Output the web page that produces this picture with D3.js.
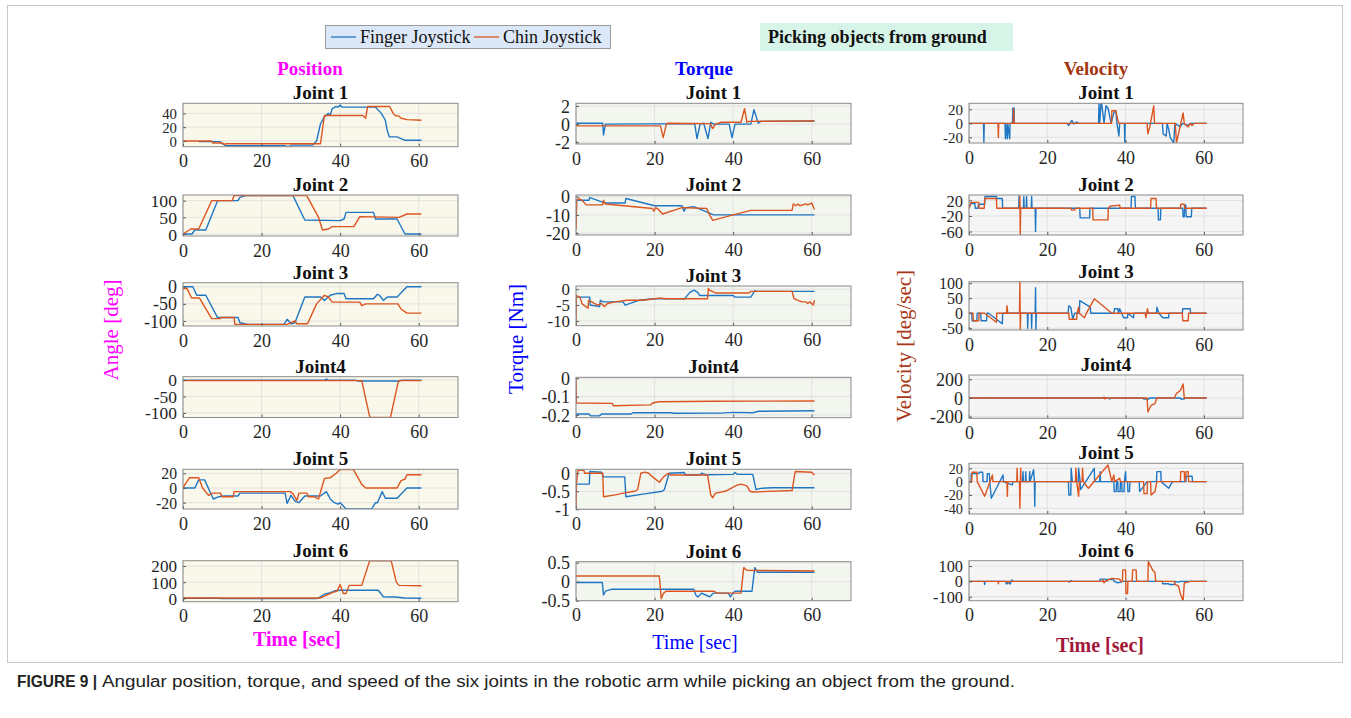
<!DOCTYPE html>
<html><head><meta charset="utf-8">
<script src="https://cdn.jsdelivr.net/npm/d3@7"></script>
<style>body{margin:0;background:#fff}</style>
</head><body>
<script>
// ---------------- DATA ----------------
const xTicks = [0, 20, 40, 60];
const xDomain = [0, 70];
const seriesNames = ["Finger Joystick", "Chin Joystick"];
const jointTitles = ["Joint 1", "Joint 2", "Joint 3", "Joint4", "Joint 5", "Joint 6"];

// Position [deg]
const posJ1F = [[4,-1],[9.5,-1],[10,-4],[11,-7],[26,-7],[26.5,-8],[27.2,-8],[27.5,-6],[33,-6],[34,0],[35,25],[36,35],[37,40],[37.5,38],[38,47],[39,50],[39.5,49],[40,52],[40.5,49],[49,49],[50.5,40],[51.5,30],[52,15],[52.5,6],[54.5,6],[56.5,1],[60.7,1]];
const posJ1C = [[0,0],[7.3,0],[7.6,-3],[10,-3],[10.5,-5],[11,-4],[33,-4],[35,-4],[36,37],[45.8,37],[46.5,33],[47,50],[52.6,50],[53.5,40],[54,37],[55,36],[55.5,33],[57,31],[60.7,30]];
const posJ2F = [[0,0],[2.3,0],[3,12],[5.8,12],[8.8,100],[14,100],[14.5,110],[16,115],[28,115],[31,42],[40,40],[41,45],[41.5,65],[48.5,65],[49,45],[54.5,45],[56.5,0],[60.7,0]];
const posJ2C = [[0,0],[2,15],[4,15],[7.3,100],[12.5,100],[13,115],[31.5,115],[34.5,50],[35.5,12],[37,15],[38,22],[43.5,22],[45,52],[55,50],[57,60],[60.7,60]];
const posJ3F = [[0,0],[2.5,0],[3.5,-25],[5.8,-25],[8.8,-90],[14,-90],[14.5,-105],[16.5,-110],[25.7,-110],[26.5,-95],[27.5,-108],[28.5,-105],[31,-30],[35,-30],[36,-40],[37.5,-25],[39,-20],[41,-20],[41.5,-35],[48.5,-35],[49.5,-22],[50,-25],[51,-40],[52,-30],[54.5,-30],[57,0],[60.7,0]];
const posJ3C = [[0,-5],[1,-5],[2.2,-33],[4.2,-33],[7.3,-93],[9.5,-93],[9.7,-90],[13,-90],[13.2,-110],[26.5,-110],[28.5,-100],[29,-108],[31.7,-108],[34,-50],[36,-25],[37,-30],[38,-45],[45,-45],[45.5,-55],[46.5,-50],[54.7,-50],[55.5,-65],[57,-77],[60.7,-77]];
const posJ4F = [[0,-1],[36,-1],[36.5,3],[37,-1],[44,-1],[44.5,-3],[55,-3],[55.5,-1],[60.7,-1]];
const posJ4C = [[0,-2],[45.5,-2],[47.3,-100],[47.6,-114],[52.8,-114],[54.8,-5],[55.2,-2],[60.7,-2]];
const posJ5F = [[0,0],[3,0],[4,11],[5.5,11],[7.7,-15],[9,-12],[10.5,-11],[14,-11],[14.5,-7],[26,-7],[26.5,-21],[27.5,-10],[28.5,-18],[29.5,-20],[31,-11],[35,-11],[36.5,-5],[37.5,-15],[38.5,-20],[39.5,-22],[40,-20],[41.5,-28.6],[48,-28.6],[49,-20],[49.5,-20],[50.7,-5],[51.5,-14],[54.5,-14],[57,0],[60.7,0]];
const posJ5C = [[0,0],[0.5,5],[1.7,14],[4,14],[5,0],[6.5,-10],[7.5,-7],[9.5,-7],[10,-12],[12.8,-12],[13,-5],[27.3,-5],[28,-8],[29,-17],[29.5,-7],[31.5,-7],[32,-12],[33.5,-12],[34.5,-15],[36,13],[37.5,14],[39,20],[40,25],[43.4,25],[45.5,5],[46.5,0],[54.5,0],[55.5,10],[56.5,12],[57,18],[60.7,18]];
const posJ6F = [[0,0],[7.5,0],[8,2],[8.5,0],[10,-2],[34,-2],[34.3,0],[36,25],[37.5,35],[38.5,45],[39.5,50],[49.7,50],[51,10],[54,8],[56.5,2],[60.7,0]];
const posJ6C = [[0,2],[35,2],[38,35],[39.2,45],[40,85],[40.8,30],[41.5,30],[42.3,80],[45.5,80],[47.5,232],[53,232],[54.3,100],[55,80],[60.7,78]];

// Torque [Nm]
const torJ1F = [[0,0.1],[6.8,0.1],[7,-1.2],[7.5,0],[30.2,0.05],[30.8,-1.6],[31.6,0],[32.5,0.1],[33.6,-1.6],[34.3,0.2],[35,0],[39,0],[39.7,-1.5],[40.5,0],[44.5,0],[45.3,1.6],[46.4,0.1],[47,0.3],[60.7,0.35]];
const torJ1C = [[0,-0.2],[21.5,-0.2],[22.2,-1.5],[23,0],[23.3,0.1],[34.2,0.05],[34.8,-0.5],[35.5,0],[37,0.2],[42,0.2],[42.9,1.7],[43.5,0.2],[44,0.3],[60.7,0.35]];
const torJ2F = [[0,-2],[3.3,-2],[3.5,-0.5],[7.5,-3.5],[12.5,-3.5],[12.7,-1],[20,-5],[27,-5],[27.5,-8],[28,-6],[30,-5.5],[35,-10],[60.7,-10]];
const torJ2C = [[0,-18],[0.2,-2],[0.8,-1],[1.5,-2],[2.6,-4.5],[6.8,-4.5],[7,-2],[7.5,-4],[19.5,-6.5],[19.8,-8],[20.3,-6],[21,-7],[22,-9.5],[27,-6],[33.3,-6.5],[34,-10],[34.8,-13],[40,-10],[44.5,-7.5],[55,-7.5],[55.3,-4],[56,-5],[56.5,-4],[57,-5],[58.5,-4],[59,-4.5],[60,-3.5],[60.7,-7]];
const torJ3F = [[0,-2.5],[3.5,-2.5],[3.6,-5],[6,-5.5],[6.2,-3.5],[7,-4],[12,-4],[12.5,-5],[16,-3.5],[20,-3],[27,-3],[27.5,-3.2],[29,-1],[30,-0.3],[31,-1],[31.5,-2],[40,-2],[40.5,-2.5],[44.5,-2.5],[45.5,-0.5],[46,-0.7],[60.7,-0.7]];
const torJ3C = [[0,-11.5],[0.1,-2],[1,-2.5],[1.5,-4.5],[2.5,-5.5],[3.1,-6],[3.2,-3.5],[4,-4],[5.5,-5],[6.5,-4.5],[7.2,-5.5],[8,-4.5],[10,-4],[13,-3.5],[17,-3.5],[20,-3],[21,-2.8],[23,-3],[33.5,-3],[33.7,0.2],[34,-0.3],[35.5,-1.2],[44,-1.2],[44.5,-0.7],[55,-0.7],[55.5,-3],[56.5,-3.5],[57.5,-4],[58.5,-4],[59,-4.5],[59.5,-4],[60.4,-5],[60.7,-3.5]];
const torJ4F = [[0,-0.195],[3.3,-0.195],[3.7,-0.205],[6,-0.205],[6.5,-0.195],[14,-0.195],[14.5,-0.188],[24,-0.188],[25,-0.191],[37,-0.19],[40,-0.186],[45,-0.188],[46.5,-0.18],[60.7,-0.177]];
const torJ4C = [[0,0],[0.1,-0.135],[9.3,-0.137],[9.5,-0.15],[19,-0.145],[19.5,-0.135],[21,-0.128],[35,-0.125],[60.7,-0.124]];
const torJ5F = [[0,-0.3],[3.4,-0.3],[3.5,0.05],[6.5,0.03],[7,-0.1],[12.4,-0.1],[12.7,-0.65],[17,-0.58],[22,-0.5],[22.5,-0.45],[23.7,0],[27.5,0.02],[28,-0.05],[31.5,-0.05],[32,0],[33,-0.04],[40,-0.03],[40.5,0.02],[41,-0.03],[45,-0.03],[45.8,-0.45],[47,-0.42],[50,-0.4],[60.7,-0.4]];
const torJ5C = [[0,-1],[0.1,-0.3],[0.5,0.08],[2,0.08],[2.2,0],[6.8,0],[7,-0.65],[10,-0.6],[12,-0.55],[15,-0.5],[15.7,-0.45],[16.5,0],[17.5,0.03],[18.5,0],[19.5,-0.1],[21.2,-0.25],[22.3,-0.1],[23.5,0],[24,-0.05],[33.5,-0.05],[34.3,-0.6],[34.8,-0.68],[35.5,-0.55],[38,-0.5],[41,-0.33],[42,-0.3],[43.5,-0.35],[44.3,-0.5],[45,-0.52],[55,-0.48],[55.8,0.05],[60,0.03],[60.7,-0.05]];
const torJ6F = [[0,-0.02],[6.7,-0.02],[7,-0.35],[7.5,-0.25],[9,-0.2],[30,-0.2],[30.5,-0.35],[31,-0.4],[32,-0.3],[33,-0.35],[34,-0.4],[35,-0.3],[38.8,-0.3],[39.3,-0.4],[40,-0.3],[40.5,-0.25],[44.8,-0.25],[45.5,0.37],[46.2,0.25],[60.7,0.25]];
const torJ6C = [[0,0.15],[21.2,0.15],[21.7,-0.45],[22.3,-0.3],[23,-0.25],[35,-0.25],[36,-0.3],[42,-0.3],[42.7,0.37],[43.5,0.3],[60.7,0.28]];

// Velocity [deg/sec]
const velJ1F = [[0,0],[3.7,0],[3.8,-28],[3.9,0],[9.2,0],[9.3,-22],[9.4,0],[9.8,-22],[9.9,0],[10.4,-22],[10.5,0],[11.1,0],[11.2,22],[11.3,0],[11.5,22],[11.6,0],[25,0],[25.5,-3],[26,2],[26.3,4],[26.8,-1],[27.5,2],[28,0],[33.1,0],[33.2,28],[33.4,0],[33.7,28],[33.9,28],[34.5,0],[35,25],[35.5,22],[36.3,0],[37,15],[37.5,18],[37.8,0],[38.3,-18],[38.5,0],[39.7,0],[39.8,-28],[39.9,0],[49.4,0],[49.6,-15],[50.4,-18],[50.6,0],[51,-8],[51.4,-20],[52.3,-28],[52.6,0],[54,-5],[54.5,0],[56,-3],[56.5,0],[60.7,0]];
const velJ1C = [[0,0],[7.4,0],[7.5,-20],[7.6,0],[11.3,0],[11.4,21],[11.5,0],[36.4,0],[36.5,18],[37.5,18],[38,5],[38.3,0],[45.5,0],[45.7,-15],[46.2,-5],[47.2,25],[47.4,0],[52.7,0],[53,-28],[54.7,15],[55,0],[55.5,-3],[56,-5],[56.5,0],[57,-3],[57.5,0],[60.7,0]];
const velJ2F = [[0,0],[0.5,12],[1.5,12],[1.6,0],[2.3,0],[2.4,10],[4,10],[4.1,30],[7,30],[7.1,25],[8.5,25],[8.6,0],[12.7,0],[12.8,32],[12.9,0],[13.9,0],[14,30],[14.1,0],[14.6,0],[14.7,30],[14.8,0],[15.9,0],[16,30],[16.1,0],[16.9,0],[17,-60],[17.1,0],[28.3,0],[28.4,-25],[30.8,-25],[30.9,0],[41.4,0],[41.5,30],[42.4,30],[42.5,0],[48.3,0],[48.4,-30],[48.9,-30],[49,0],[54.6,0],[54.7,-22],[55,-22],[55.1,8],[55.4,8],[55.5,-22],[56.8,-22],[56.9,0],[60.7,0]];
const velJ2C = [[0,0],[0.5,15],[2.5,15],[2.6,0],[3.9,0],[4,25],[7,25],[7.1,0],[12.9,0],[13,30],[13.1,-69],[13.2,0],[26,0],[26.2,-5],[27,-5],[27.2,0],[31.6,0],[31.7,-30],[35.5,-30],[35.6,0],[36,5],[38.5,8],[38.6,0],[46.4,0],[46.5,25],[47.8,25],[47.9,0],[54,0],[54.1,10],[55,10],[55.1,0],[60.7,0]];
const velJ3F = [[0,0],[0.7,0],[0.8,-25],[2,-25],[2.1,0],[3,0],[3.1,-25],[4.5,-25],[4.6,0],[5,0],[8.5,-35],[8.6,0],[14.9,0],[15,-50],[15.1,0],[15.9,0],[16,-50],[16.1,0],[16.9,0],[17,85],[17.1,-56],[17.2,0],[25.3,0],[25.5,25],[26,20],[26.5,-20],[27,0],[28.2,0],[28.3,42],[31,20],[31.1,0],[37,0],[37.2,15],[38,15],[38.2,0],[38.5,15],[39,0],[39.5,-15],[40.5,-15],[40.6,0],[42,-15],[42.2,0],[47.9,0],[48,20],[48.5,0],[49.5,-15],[51,-15],[51.1,0],[54.5,0],[54.6,15],[56.5,15],[56.6,0],[60.7,0]];
const velJ3C = [[0,0],[1,0],[1.1,-25],[2.5,-25],[2.6,0],[4,0],[7,-30],[7.1,0],[9.6,0],[9.7,25],[9.9,0],[12.9,0],[13,105],[13.1,-56],[13.2,0],[25.5,0],[25.6,-20],[27.5,-20],[27.6,0],[28,20],[28.2,0],[29.5,-15],[30,0],[32,48],[36.5,0],[45,0],[45.2,-15],[45.4,0],[45.6,15],[45.8,0],[54.5,0],[54.6,-25],[56,-25],[56.1,0],[60.7,0]];
const velJ4F = [[0,0],[35.8,0],[36,-10],[36.3,0],[44.5,0],[44.6,-10],[46,-10],[46.1,0],[54,0],[54.1,-10],[55,-10],[55.1,0],[60.7,0]];
const velJ4C = [[0,0],[4.7,0],[4.8,5],[4.9,0],[34.3,0],[34.5,10],[34.7,-10],[34.9,0],[45.5,0],[45.7,-150],[46.5,-80],[47.5,-60],[48,0],[52.5,0],[53,50],[54,80],[54.7,150],[55,0],[60.7,0]];
const velJ5F = [[0,0],[0.5,0],[0.6,12],[2.5,12],[2.6,14],[3.5,14],[3.6,0],[4.6,0],[4.7,12],[5.2,12],[5.3,0],[5.7,-25],[8.7,10],[8.8,0],[11,-5],[11.3,0],[13.7,0],[13.8,15],[13.9,0],[14.4,0],[14.5,15],[14.6,0],[15.4,0],[15.5,15],[15.6,0],[16.5,18],[16.7,0],[16.8,-37],[16.9,0],[25.4,0],[25.5,-20],[26,-20],[26.1,20],[26.4,0],[27.9,0],[28,20],[28.4,0],[28.5,-12],[32,20],[32.1,0],[33.4,0],[33.5,15],[33.6,0],[37,0],[37.1,-15],[37.6,-15],[37.7,0],[38,0],[38.1,-15],[38.6,-15],[38.7,0],[39,0],[39.1,-15],[39.6,-15],[39.7,0],[40,15],[40.1,0],[40.5,0],[40.6,-15],[41,-15],[41.1,0],[43.5,0],[43.6,-15],[45.5,0],[47.9,0],[48,15],[49,15],[49.1,0],[51,-10],[51.5,-5],[52,0],[55.4,0],[55.5,8],[57,8],[57.1,0],[60.7,0]];
const velJ5C = [[0,0],[0.7,0],[0.8,14],[2,14],[2.1,0],[4,-22],[6,10],[6.1,0],[9.7,0],[9.8,-22],[9.9,0],[12.2,0],[12.3,20],[12.4,0],[12.9,0],[13,-40],[13.2,20],[13.3,0],[27.2,0],[27.3,20],[27.5,0],[28,-22],[28.2,0],[28.9,0],[29,20],[29.2,0],[30.5,-10],[35.5,25],[36.5,0],[37,10],[37.2,0],[38.5,5],[38.7,0],[44.6,0],[44.7,-18],[45.5,-18],[45.6,0],[46.4,0],[46.5,-20],[47.5,-15],[48,0],[54,0],[54.1,15],[55,15],[55.1,0],[55.5,15],[56,15],[56.1,0],[60.7,0]];
const velJ6F = [[0,0],[3.9,0],[4,-20],[4.1,0],[9.4,0],[9.5,-15],[9.8,-15],[9.9,0],[10.2,0],[10.3,-15],[10.6,-15],[10.7,0],[11,10],[11.1,0],[25.5,0],[25.6,-5],[26,5],[26.5,0],[33.4,0],[33.5,15],[35,15],[35.1,0],[35.5,15],[37,10],[37.1,0],[38,-10],[39.5,0],[49.4,0],[49.5,-15],[51,-15],[51.2,-20],[52.5,-20],[52.6,0],[53.5,-5],[54,0],[60.7,0]];
const velJ6C = [[0,0],[7.4,0],[7.5,-15],[7.6,0],[9.9,0],[10,-10],[10.1,0],[34,0],[34.2,10],[34.5,-10],[34.7,0],[36.5,20],[38.5,15],[38.8,0],[39.2,0],[39.3,75],[40,75],[40.1,-80],[40.5,-80],[40.6,0],[41.7,0],[41.8,75],[42.7,75],[42.8,0],[45.7,0],[45.8,130],[47,70],[47.5,60],[47.7,0],[52.5,0],[52.6,-20],[53.5,-30],[54,-80],[54.7,-126],[55,-10],[56,-5],[56.5,0],[60.7,0]];

// axis ranges and tick labels
const posDomains = [[-8.3,54.6],[-6,117],[-114.6,11.7],[-114,10],[-28.6,25.4],[-21,233]];
const posTicks = [[0,20,40],[0,50,100],[-100,-50,0],[-100,-50,0],[-20,0,20],[0,100,200]];
const torDomains = [[-2.2,2.3],[-21,0.9],[-11.5,1],[-0.215,0.0055],[-1,0.11],[-0.5,0.526]];
const torTicks = [[-2,0,2],[-20,-10,0],[-10,-5,0],[-0.2,-0.1,0],[-1,-0.5,0],[-0.5,0,0.5]];
const velDomains = [[-28,28.6],[-69,34],[-56,105],[-217,246],[-48.6,27.5],[-126,135]];
const velTicks = [[-20,0,20],[-60,-20,20],[-50,0,50,100],[-200,0,200],[-40,-20,0,20],[-100,0,100]];

// ---------------- LAYOUT ----------------
const W = 1351, H = 718;
const COLORS = ["#1f77c4", "#dc5520"];
const FONT = "'Liberation Serif', 'Times New Roman', serif";
const columns = [
  { title: "Position", titleColor: "#ff00ff", titleX: 310, bg: "#faf8ea", left: 183, right: 458,
    tops: [103.3,195,282.7,376.7,469.3,560.7], bottoms: [146.7,236,326,417.5,509,601.7],
    data: [[posJ1F,posJ1C],[posJ2F,posJ2C],[posJ3F,posJ3C],[posJ4F,posJ4C],[posJ5F,posJ5C],[posJ6F,posJ6C]],
    domains: posDomains, ticks: posTicks,
    ylabel: "Angle [deg]", ylabelX: 118, ylabelY: 330, ylabelColor: "#ff00ff", ylabelWeight: "normal",
    xlabelX: 297, xlabelY: 646, xlabelColor: "#ff00ff", xlabelWeight: "bold" },
  { title: "Torque", titleColor: "#0000ff", titleX: 704, bg: "#f3f6ef", left: 576, right: 851,
    tops: [103.3,195,286,377.3,469.3,561.7], bottoms: [144,235,325.7,417.7,509.3,600.7],
    data: [[torJ1F,torJ1C],[torJ2F,torJ2C],[torJ3F,torJ3C],[torJ4F,torJ4C],[torJ5F,torJ5C],[torJ6F,torJ6C]],
    domains: torDomains, ticks: torTicks,
    ylabel: "Torque [Nm]", ylabelX: 523, ylabelY: 339, ylabelColor: "#0000ff", ylabelWeight: "normal",
    xlabelX: 695, xlabelY: 649, xlabelColor: "#0000ff", xlabelWeight: "normal" },
  { title: "Velocity", titleColor: "#a3360f", titleX: 1096, bg: "#f5f5f5", left: 969, right: 1243,
    tops: [103.3,195,281.7,375,463.3,560.7], bottoms: [143,235,330,418.3,514,600.7],
    data: [[velJ1F,velJ1C],[velJ2F,velJ2C],[velJ3F,velJ3C],[velJ4F,velJ4C],[velJ5F,velJ5C],[velJ6F,velJ6C]],
    domains: velDomains, ticks: velTicks,
    ylabel: "Velocity [deg/sec]", ylabelX: 911, ylabelY: 346, ylabelColor: "#a83a1a", ylabelWeight: "normal",
    xlabelX: 1100, xlabelY: 652, xlabelColor: "#a3173a", xlabelWeight: "bold" }
];

const svg = d3.select("body").append("svg").attr("width", W).attr("height", H)
  .style("font-family", FONT);
svg.append("rect").attr("width", W).attr("height", H).attr("fill", "#fff");
const defs = svg.append("defs");

// outer frame
svg.append("rect").attr("x", 7.5).attr("y", 5.5).attr("width", 1335).attr("height", 657)
  .attr("fill", "none").attr("stroke", "#c8c8c8").attr("stroke-width", 1);

columns.forEach((col, ci) => {
  svg.append("text").attr("x", col.titleX).attr("y", 75).attr("text-anchor", "middle")
    .attr("font-size", 19).attr("font-weight", "bold").attr("fill", col.titleColor).text(col.title);

  col.data.forEach((pair, ri) => {
    const top = col.tops[ri], bottom = col.bottoms[ri];
    const x = d3.scaleLinear().domain(xDomain).range([col.left, col.right]);
    const y = d3.scaleLinear().domain(col.domains[ri]).range([bottom, top]);
    const g = svg.append("g");
    g.append("rect").attr("x", col.left).attr("y", top).attr("width", col.right - col.left)
      .attr("height", bottom - top).attr("fill", col.bg);
    // grid
    g.selectAll(".gx").data(xTicks).join("line")
      .attr("x1", d => x(d)).attr("x2", d => x(d)).attr("y1", top).attr("y2", bottom)
      .attr("stroke", "#dcdcdc").attr("stroke-width", 0.8);
    g.selectAll(".gy").data(col.ticks[ri]).join("line")
      .attr("x1", col.left).attr("x2", col.right).attr("y1", d => y(d)).attr("y2", d => y(d))
      .attr("stroke", "#dcdcdc").attr("stroke-width", 0.8);
    // clip
    const cid = `clip-${ci}-${ri}`;
    defs.append("clipPath").attr("id", cid).append("rect")
      .attr("x", col.left).attr("y", top).attr("width", col.right - col.left).attr("height", bottom - top);
    const line = d3.line().x(d => x(d[0])).y(d => y(d[1]));
    const lg = g.append("g").attr("clip-path", `url(#${cid})`);
    pair.forEach((ser, si) => {
      lg.append("path").datum(ser).attr("d", line).attr("fill", "none")
        .attr("stroke", COLORS[si]).attr("stroke-width", 1.4).attr("stroke-linejoin", "round");
    });
    // axes
    const tv = col.ticks[ri];
    const spacing = Math.abs(y(tv[0]) - y(tv[1]));
    const yFont = Math.max(14, Math.min(18, spacing + 1));
    const ax = g.append("g").attr("transform", `translate(0,${bottom})`)
      .call(d3.axisBottom(x).tickValues(xTicks).tickFormat(d => String(d)).tickSizeInner(-3).tickSizeOuter(0).tickPadding(8));
    const ay = g.append("g").attr("transform", `translate(${col.left},0)`)
      .call(d3.axisLeft(y).tickValues(tv).tickFormat(d => String(d)).tickSizeInner(-3).tickSizeOuter(0).tickPadding(6));
    [ax, ay].forEach(a => {
      a.select(".domain").remove();
      a.selectAll(".tick line").attr("stroke", "#555");
      a.selectAll("text").attr("font-family", FONT).attr("fill", "#262626");
    });
    ax.selectAll("text").attr("font-size", 18).attr("dy", "0.71em");
    ay.selectAll("text").attr("font-size", yFont).attr("dy", "0.34em");
    // box
    g.append("rect").attr("x", col.left).attr("y", top).attr("width", col.right - col.left)
      .attr("height", bottom - top).attr("fill", "none").attr("stroke", "#8a8a8a").attr("stroke-width", 1);
    // joint title
    g.append("text").attr("x", (col.left + col.right) / 2).attr("y", top - 4).attr("text-anchor", "middle")
      .attr("font-size", 19).attr("font-weight", "bold").attr("fill", "#111").text(jointTitles[ri]);
  });

  svg.append("text").attr("transform", `translate(${col.ylabelX},${col.ylabelY}) rotate(-90)`)
    .attr("text-anchor", "middle").attr("font-size", 21).attr("font-weight", col.ylabelWeight)
    .attr("fill", col.ylabelColor).text(col.ylabel);
  svg.append("text").attr("x", col.xlabelX).attr("y", col.xlabelY).attr("text-anchor", "middle")
    .attr("font-size", 20).attr("font-weight", col.xlabelWeight).attr("fill", col.xlabelColor).text("Time [sec]");
});

// legend
const leg = svg.append("g");
leg.append("rect").attr("x", 325.5).attr("y", 25.5).attr("width", 285).attr("height", 23)
  .attr("fill", "#dce8f7").attr("stroke", "#9a9a9a");
[[331, 360], [474, 503]].forEach((p, i) => {
  leg.append("line").attr("x1", p[0]).attr("x2", p[0] + 25).attr("y1", 37).attr("y2", 37)
    .attr("stroke", COLORS[i]).attr("stroke-width", 1.3);
  leg.append("text").attr("x", p[1]).attr("y", 43).attr("font-size", 18).attr("fill", "#111").text(seriesNames[i]);
});
// annotation
svg.append("rect").attr("x", 760).attr("y", 23).attr("width", 253).attr("height", 28).attr("fill", "#d7f4e8");
svg.append("text").attr("x", 768).attr("y", 43).attr("font-size", 18).attr("font-weight", "bold")
  .attr("fill", "#111").text("Picking objects from ground");

// caption
const cap = svg.append("text").attr("x", 17).attr("y", 687).attr("font-family", "'Liberation Sans', Arial, sans-serif")
  .attr("font-size", 16).attr("fill", "#222");
cap.append("tspan").attr("font-weight", "bold").attr("textLength", 80).attr("lengthAdjust", "spacingAndGlyphs").text("FIGURE 9 |");
cap.append("tspan").attr("x", 102).attr("textLength", 913).attr("lengthAdjust", "spacingAndGlyphs")
  .text("Angular position, torque, and speed of the six joints in the robotic arm while picking an object from the ground.");
</script>
</body></html>
